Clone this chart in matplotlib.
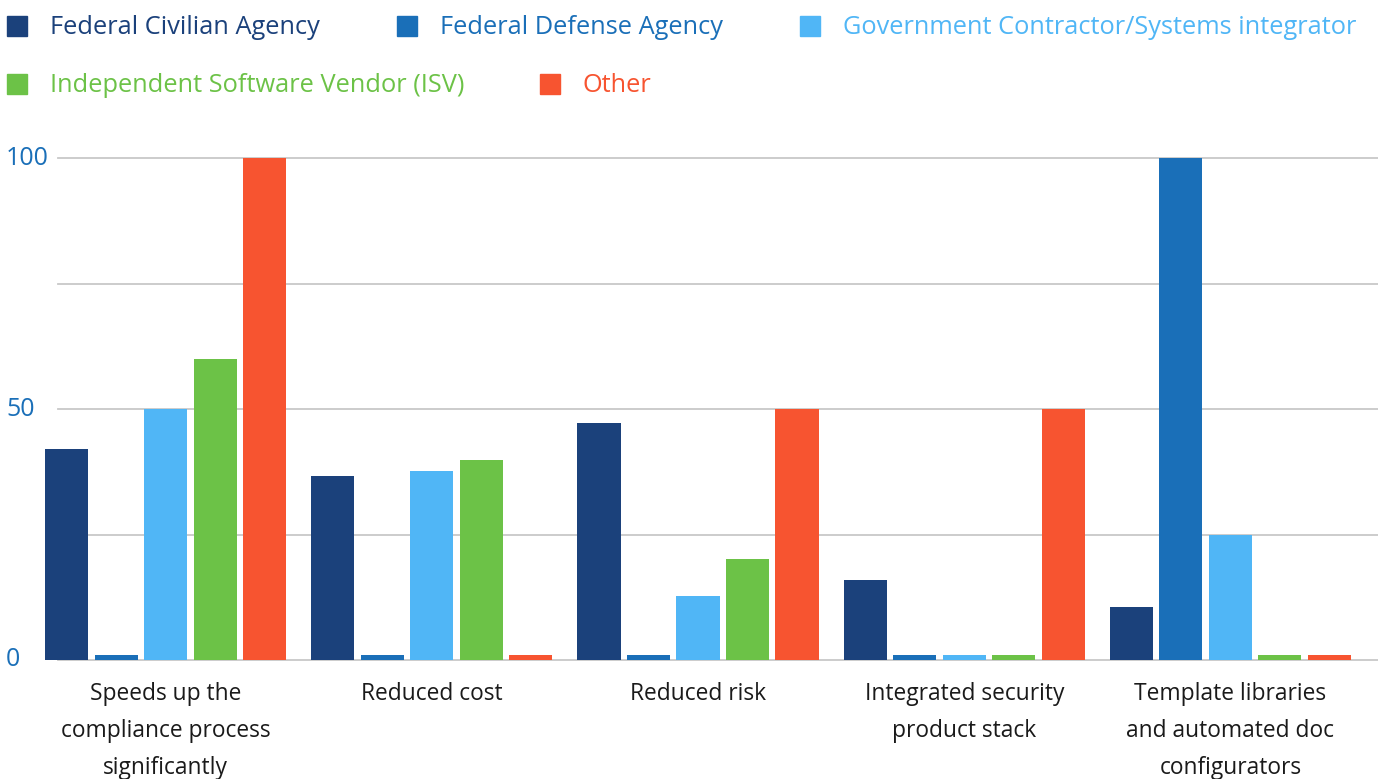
import numpy as np
import matplotlib.pyplot as plt
from matplotlib.patches import Rectangle
from matplotlib.transforms import blended_transform_factory

plt.rcParams['font.family'] = ['Open Sans', 'DejaVu Sans']

categories = ["Speeds up the\ncompliance process\nsignificantly",
              "Reduced cost",
              "Reduced risk",
              "Integrated security\nproduct stack",
              "Template libraries\nand automated doc\nconfigurators"]
series = ["Federal Civilian Agency", "Federal Defense Agency",
          "Government Contractor/Systems integrator",
          "Independent Software Vendor (ISV)", "Other"]
federal_civilian = [42, 36.7, 47.2, 15.9, 10.6]
federal_defense = [1, 1, 1, 1, 100]
gov_contractor = [50, 37.6, 12.7, 1, 24.9]
isv = [60, 39.8, 20.1, 1, 1]
other = [100, 1, 50, 50, 1]
colors = ["#1B417B", "#1A6FB8", "#50B6F6", "#6CC247", "#F75430"]

values = [federal_civilian, federal_defense, gov_contractor, isv, other]

W, H = 1378, 779
fig = plt.figure(figsize=(W / 100, H / 100), dpi=100)
ax = fig.add_axes([32.5 / W, 119 / H, 1331 / W, 502 / H])

x = np.arange(len(categories))
step = 0.186
width = 0.162
for i, (vals, c) in enumerate(zip(values, colors)):
    ax.bar(x + (i - 2) * step, vals, width=width, color=c, zorder=3)

ax.set_xlim(-0.5, 4.5)
ax.set_ylim(0, 100)

# horizontal grid lines, drawn past the axes edges
tr = blended_transform_factory(ax.transAxes, ax.transData)
for g in [0, 25, 50, 75, 100]:
    ax.plot([0.019, 1.011], [g, g], transform=tr, color="#c8c8c8",
            lw=1.3, clip_on=False, zorder=1)

for s in ax.spines.values():
    s.set_visible(False)
ax.set_yticks([])
ax.set_xticks(x)
ax.set_xticklabels(categories, fontsize=16.4, color="#1a1a1a", linespacing=1.72,
                   va="top")
ax.tick_params(axis="x", length=0, pad=16)

# y tick labels, left aligned at the figure edge
for v in [0, 50, 100]:
    fig.text(6 / W, 1 - (660 - v * 5.02) / H, str(v), fontsize=18,
             color="#1A6FB8", ha="left", va="center")

# legend drawn by hand in two rows
legend_pos = [(7, 26), (397, 26), (800, 26), (7, 84), (540, 84)]
for name, c, (px, py) in zip(series, colors, legend_pos):
    fig.patches.append(Rectangle((px / W, 1 - (py + 10) / H), 20 / W, 20 / H,
                                 transform=fig.transFigure, color=c))
    fig.text((px + 43) / W, 1 - (py + 2) / H, name, fontsize=18.3, color=c,
             ha="left", va="center")

fig.savefig("out.png", dpi=100)
